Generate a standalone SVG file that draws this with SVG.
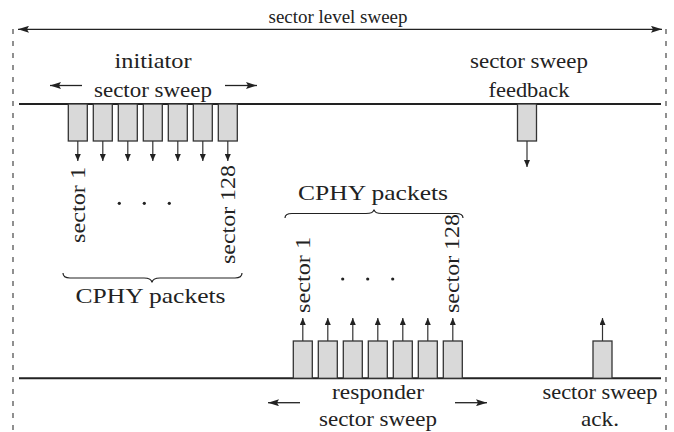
<svg xmlns="http://www.w3.org/2000/svg" width="674" height="432" viewBox="0 0 674 432">
<style>
  text { font-family: "Liberation Serif", "Times New Roman", serif; fill: #222; }
  .lbl { font-size: 22px; }
  .top { font-size: 18px; }
  .mid { text-anchor: middle; }
  .bus { stroke: #222; stroke-width: 2; fill: none; }
  .pkt { fill: #d9d9d9; stroke: #333; stroke-width: 1.3; }
  .arr { stroke: #333; stroke-width: 1.2; fill: none; marker-end: url(#sm); }
  .side { stroke: #222; stroke-width: 1.3; fill: none; marker-end: url(#big); }
  .dash { stroke: #555; stroke-width: 1.3; stroke-dasharray: 5 7; fill: none; }
  .brace { stroke: #222; stroke-width: 1.2; fill: none; }
  .dot { fill: #222; }
</style>
<defs>
  <marker id="sm" viewBox="0 0 7 6" refX="7" refY="3" markerWidth="7" markerHeight="6" markerUnits="userSpaceOnUse" orient="auto">
    <path d="M0,0 L7,3 L0,6 z" fill="#222"/>
  </marker>
  <marker id="big" viewBox="0 0 11 7" refX="11" refY="3.5" markerWidth="11" markerHeight="7" markerUnits="userSpaceOnUse" orient="auto-start-reverse">
    <path d="M0,0 L11,3.5 L0,7 L2,3.5 z" fill="#222"/>
  </marker>
</defs>

<!-- frame: dashed bounds and sector level sweep span -->
<g id="frame">
  <line class="dash" x1="13" y1="29" x2="13" y2="432"/>
  <line class="dash" x1="666" y1="29" x2="666" y2="432"/>
  <line x1="18" y1="29.3" x2="662" y2="29.3" stroke="#222" stroke-width="1.2" marker-start="url(#big)" marker-end="url(#big)"/>
  <text class="top mid" x="338" y="23" textLength="139" lengthAdjust="spacingAndGlyphs">sector level sweep</text>
</g>

<!-- timelines -->
<g id="initiator-line"><line class="bus" x1="19" y1="104" x2="661" y2="104"/></g>
<g id="responder-line"><line class="bus" x1="19" y1="378.3" x2="661" y2="378.3"/></g>

<!-- initiator sector sweep -->
<g id="initiator-sweep">
  <text class="lbl mid" x="153" y="68" textLength="77" lengthAdjust="spacingAndGlyphs">initiator</text>
  <text class="lbl mid" x="153" y="97" textLength="118" lengthAdjust="spacingAndGlyphs">sector sweep</text>
  <rect class="pkt" x="68.3" y="104" width="19" height="37"/>
  <rect class="pkt" x="93.3" y="104" width="19" height="37"/>
  <rect class="pkt" x="118.3" y="104" width="19" height="37"/>
  <rect class="pkt" x="143.3" y="104" width="19" height="37"/>
  <rect class="pkt" x="168.3" y="104" width="19" height="37"/>
  <rect class="pkt" x="193.3" y="104" width="19" height="37"/>
  <rect class="pkt" x="218.3" y="104" width="19" height="37"/>
  <text class="lbl" transform="translate(85,167) rotate(-90)" text-anchor="end" textLength="76" lengthAdjust="spacingAndGlyphs">sector 1</text>
  <text class="lbl" transform="translate(235,165) rotate(-90)" text-anchor="end" textLength="99" lengthAdjust="spacingAndGlyphs">sector 128</text>
  <circle class="dot" cx="119.3" cy="203.3" r="1.6"/>
  <circle class="dot" cx="144.3" cy="203.3" r="1.6"/>
  <circle class="dot" cx="169.3" cy="203.3" r="1.6"/>
  <path class="brace" d="M63,273 C63,276.5 65.5,278 70,278 L144,278 C148.5,278 151.5,279.5 152,282.5 C152.5,279.5 155.5,278 160,278 L235,278 C239.5,278 242,276.5 242,273"/>
  <text class="lbl mid" x="150.5" y="303" textLength="150" lengthAdjust="spacingAndGlyphs">CPHY packets</text>
</g>

<!-- sector sweep feedback -->
<g id="feedback">
  <text class="lbl mid" x="529" y="68" textLength="118" lengthAdjust="spacingAndGlyphs">sector sweep</text>
  <text class="lbl mid" x="529" y="97" textLength="81" lengthAdjust="spacingAndGlyphs">feedback</text>
  <rect class="pkt" x="517.5" y="104" width="19" height="37"/>
</g>

<!-- responder sector sweep -->
<g id="responder-sweep">
  <text class="lbl mid" x="373" y="200" textLength="150" lengthAdjust="spacingAndGlyphs">CPHY packets</text>
  <path class="brace" d="M285,218 C285,215 287.5,213.5 292,213.5 L366,213.5 C370.5,213.5 373.5,212.5 374,209.5 C374.5,212.5 377.5,213.5 382,213.5 L456,213.5 C460.5,213.5 463,215 463,218"/>
  <text class="lbl" transform="translate(309.5,313) rotate(-90)" textLength="76" lengthAdjust="spacingAndGlyphs">sector 1</text>
  <text class="lbl" transform="translate(459,313) rotate(-90)" textLength="99" lengthAdjust="spacingAndGlyphs">sector 128</text>
  <circle class="dot" cx="342.7" cy="279" r="1.6"/>
  <circle class="dot" cx="367.7" cy="279" r="1.6"/>
  <circle class="dot" cx="392.7" cy="279" r="1.6"/>
  <rect class="pkt" x="293.3" y="341" width="19" height="37.3"/>
  <rect class="pkt" x="318.3" y="341" width="19" height="37.3"/>
  <rect class="pkt" x="343.3" y="341" width="19" height="37.3"/>
  <rect class="pkt" x="368.3" y="341" width="19" height="37.3"/>
  <rect class="pkt" x="393.3" y="341" width="19" height="37.3"/>
  <rect class="pkt" x="418.3" y="341" width="19" height="37.3"/>
  <rect class="pkt" x="443.3" y="341" width="19" height="37.3"/>
  <text class="lbl mid" x="378" y="399" textLength="92" lengthAdjust="spacingAndGlyphs">responder</text>
  <text class="lbl mid" x="378" y="426" textLength="118" lengthAdjust="spacingAndGlyphs">sector sweep</text>
</g>

<!-- sector sweep ack -->
<g id="ack">
  <rect class="pkt" x="593" y="341" width="19" height="37.3"/>
  <text class="lbl mid" x="600" y="399" textLength="115" lengthAdjust="spacingAndGlyphs">sector sweep</text>
  <text class="lbl mid" x="600" y="426" textLength="38" lengthAdjust="spacingAndGlyphs">ack.</text>
</g>

<!-- connectors -->
<g id="connectors">
  <line class="side" x1="82" y1="85.5" x2="50" y2="85.5"/>
  <line class="side" x1="225" y1="85.5" x2="257" y2="85.5"/>
  <line class="side" x1="300" y1="402.7" x2="268" y2="402.7"/>
  <line class="side" x1="455" y1="402.7" x2="487" y2="402.7"/>
  <line class="arr" x1="77.8" y1="141" x2="77.8" y2="161"/>
  <line class="arr" x1="102.8" y1="141" x2="102.8" y2="161"/>
  <line class="arr" x1="127.8" y1="141" x2="127.8" y2="161"/>
  <line class="arr" x1="152.8" y1="141" x2="152.8" y2="161"/>
  <line class="arr" x1="177.8" y1="141" x2="177.8" y2="161"/>
  <line class="arr" x1="202.8" y1="141" x2="202.8" y2="161"/>
  <line class="arr" x1="227.8" y1="141" x2="227.8" y2="161"/>
  <line class="arr" x1="527" y1="141" x2="527" y2="167"/>
  <line class="arr" x1="302.8" y1="341" x2="302.8" y2="318"/>
  <line class="arr" x1="327.8" y1="341" x2="327.8" y2="318"/>
  <line class="arr" x1="352.8" y1="341" x2="352.8" y2="318"/>
  <line class="arr" x1="377.8" y1="341" x2="377.8" y2="318"/>
  <line class="arr" x1="402.8" y1="341" x2="402.8" y2="318"/>
  <line class="arr" x1="427.8" y1="341" x2="427.8" y2="318"/>
  <line class="arr" x1="452.8" y1="341" x2="452.8" y2="318"/>
  <line class="arr" x1="602.5" y1="341" x2="602.5" y2="318"/>
</g>
</svg>
